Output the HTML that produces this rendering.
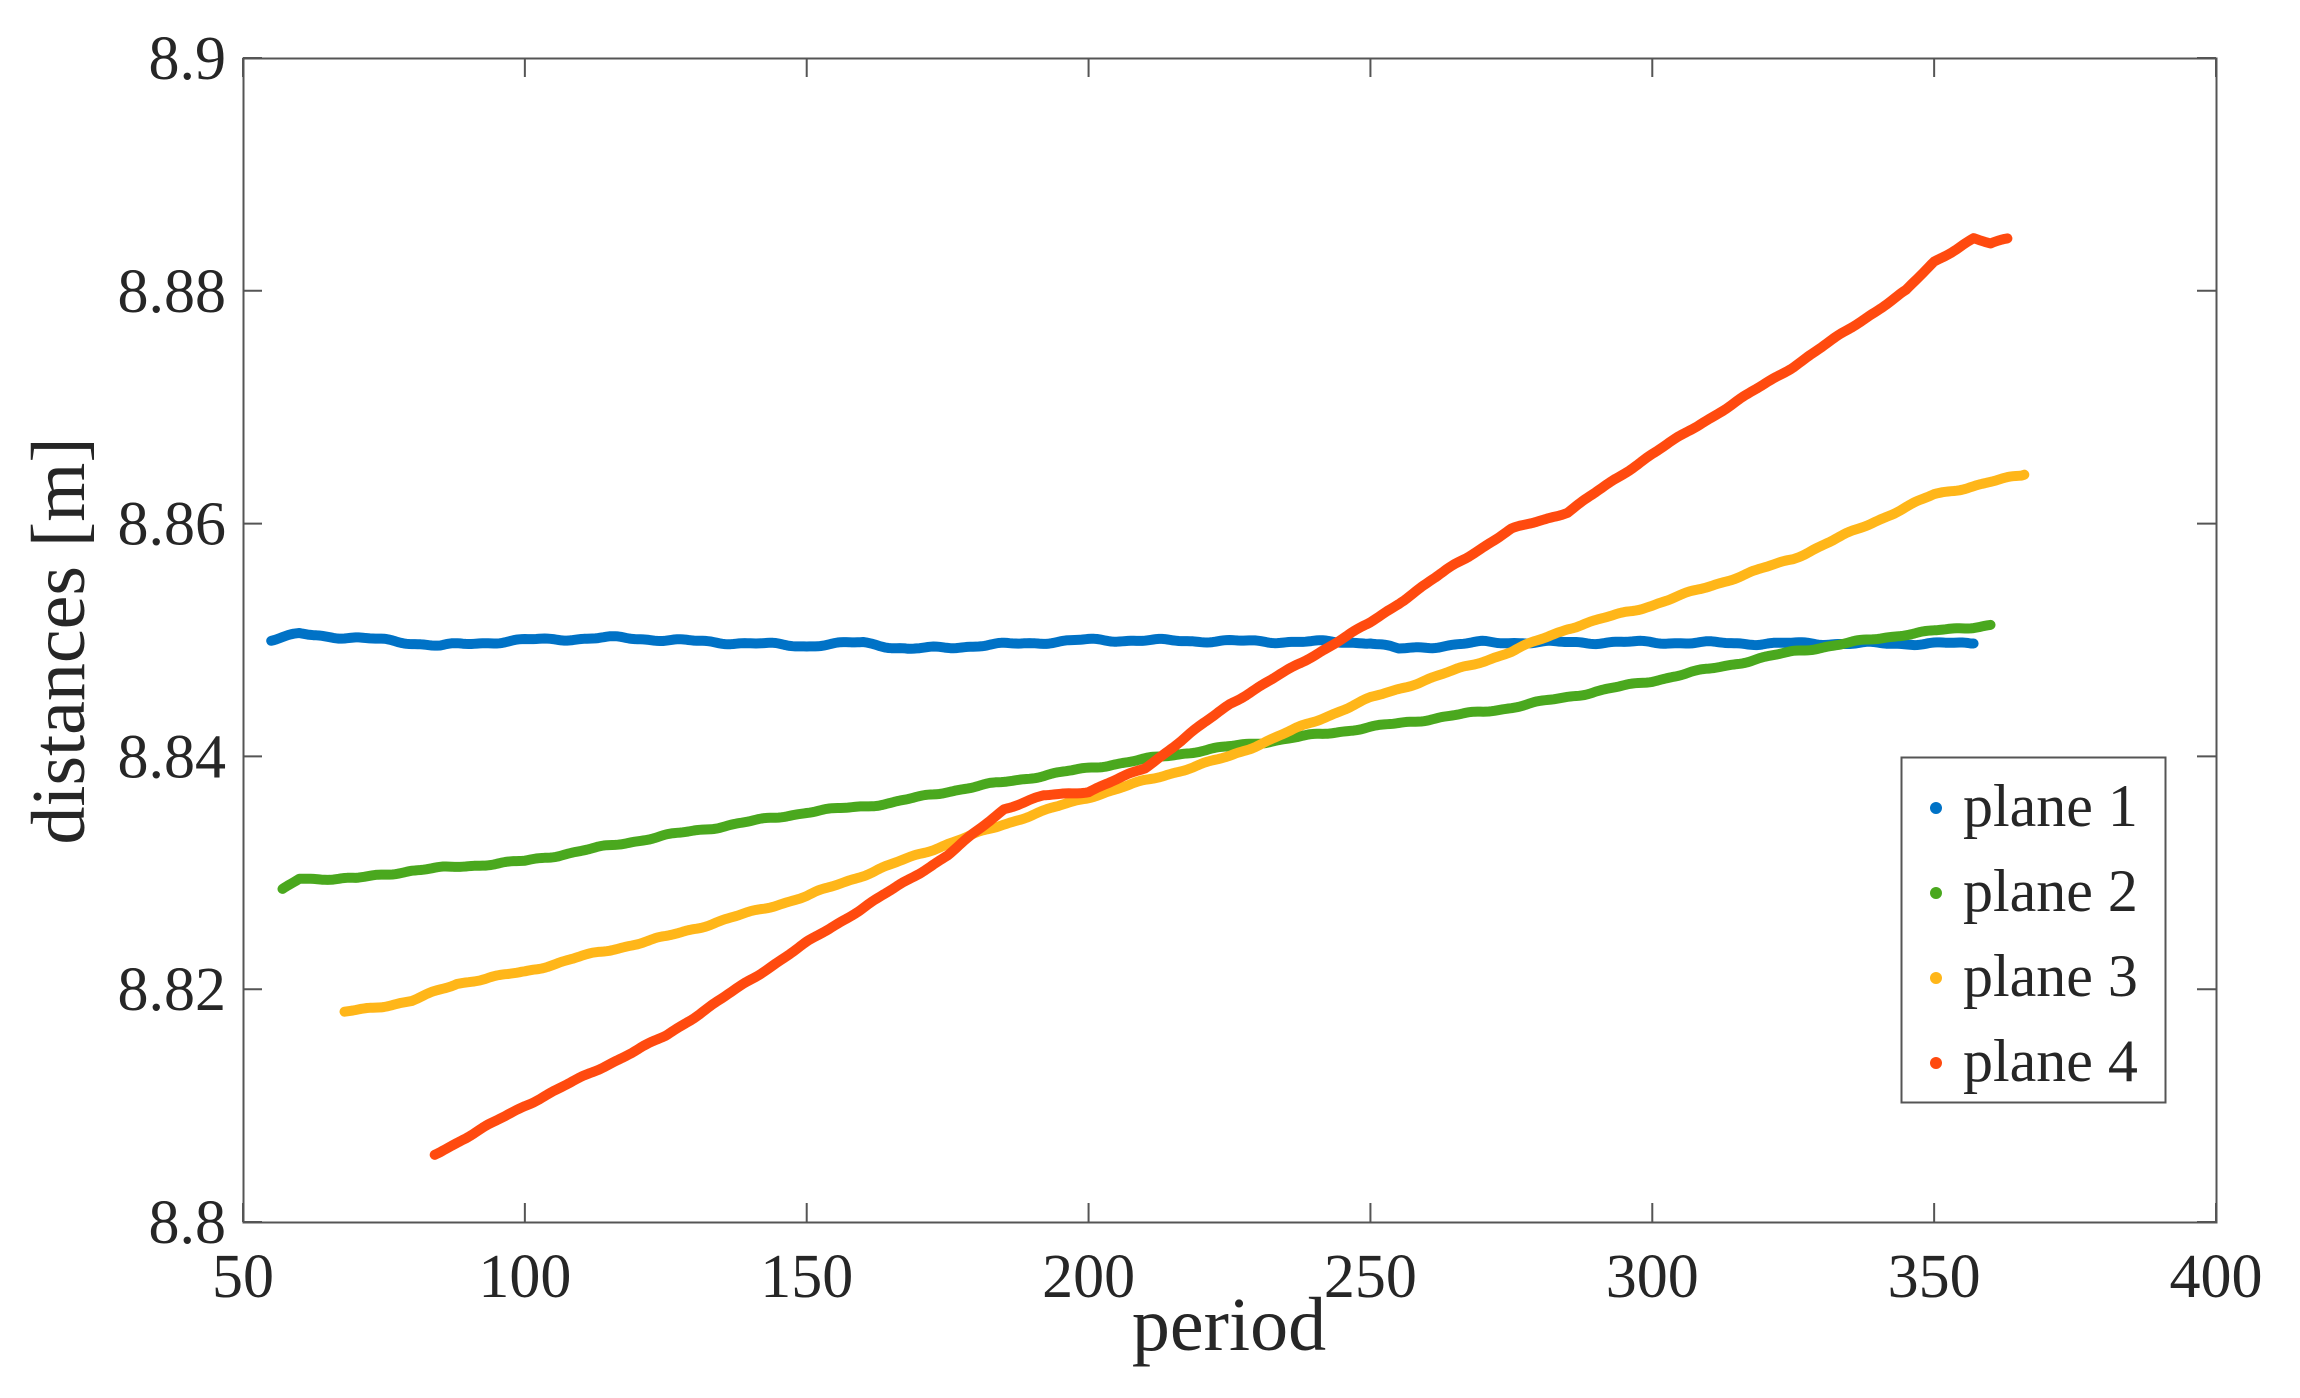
<!DOCTYPE html>
<html><head><meta charset="utf-8"><style>
html,body{margin:0;padding:0;background:#fff}
svg text{font-family:"Liberation Serif",serif;fill:#262626}
</style></head><body>
<svg id="s" width="2300" height="1393" viewBox="0 0 2300 1393" xmlns="http://www.w3.org/2000/svg">
<rect width="2300" height="1393" fill="#fff"/>
<g id="data"></g>
<rect x="243.5" y="58.5" width="1973" height="1164" fill="none" stroke="#555" stroke-width="2"/>
<g id="ticks" stroke="#555" stroke-width="2"></g>
<g font-size="62" text-anchor="end" id="yl"></g>
<g font-size="62" text-anchor="middle" id="xl"></g>
<text x="1229" y="1350" font-size="76" text-anchor="middle">period</text>
<text transform="translate(84,641) rotate(-90)" font-size="76" text-anchor="middle">distances [m]</text>
<rect x="1901.5" y="757.5" width="264" height="345" fill="#fff" stroke="#555" stroke-width="2"/>
<g font-size="60">
<circle cx="1936" cy="808" r="6" fill="#0072c6"/><text x="1963" y="826">plane 1</text>
<circle cx="1936" cy="893" r="6" fill="#4aa81e"/><text x="1963" y="911">plane 2</text>
<circle cx="1936" cy="978" r="6" fill="#ffb619"/><text x="1963" y="996">plane 3</text>
<circle cx="1936" cy="1063" r="6" fill="#ff4a0f"/><text x="1963" y="1081">plane 4</text>
</g>
</svg>
<script>
const X=v=>243+(v-50)/350*1973, Y=v=>58+(8.9-v)/0.1*1164;
const ns="http://www.w3.org/2000/svg";
const tk=document.getElementById('ticks'),yl=document.getElementById('yl'),xl=document.getElementById('xl');
function el(t,a,p){const e=document.createElementNS(ns,t);for(const k in a)e.setAttribute(k,a[k]);p.appendChild(e);return e;}
[8.8,8.82,8.84,8.86,8.88,8.9].forEach((v,i)=>{const y=Y(v);
 el('line',{x1:243,x2:262,y1:y,y2:y},tk);el('line',{x1:2216,x2:2197,y1:y,y2:y},tk);
 const t=el('text',{x:226,y:y+21},yl);t.textContent=['8.8','8.82','8.84','8.86','8.88','8.9'][i];});
[50,100,150,200,250,300,350,400].forEach(v=>{const x=X(v);
 el('line',{x1:x,x2:x,y1:1222,y2:1203},tk);el('line',{x1:x,x2:x,y1:58,y2:77},tk);
 const t=el('text',{x:x,y:1297},xl);t.textContent=v;});
const S=[
 ['#0072c6',[[55,8.850],[60,8.8505],[75,8.850],[85,8.8495],[100,8.850],[117,8.8502],[125,8.850],[150,8.8495],[160,8.8498],[168,8.8492],[200,8.850],[250,8.8498],[255,8.8492],[270,8.8498],[300,8.8498],[320,8.8497],[340,8.8497],[357,8.8497]],0.00015],
 ['#4aa81e',[[57,8.8285],[60,8.8295],[70,8.8295],[80,8.8302],[100,8.831],[125,8.8332],[150,8.8352],[165,8.836],[175,8.837],[200,8.839],[220,8.8405],[250,8.8425],[275,8.8442],[300,8.8465],[325,8.849],[345,8.8505],[360,8.8513]],0.00012],
 ['#ffb619',[[68,8.818],[80,8.819],[88,8.8205],[100,8.8215],[110,8.8228],[125,8.8245],[150,8.828],[175,8.8325],[190,8.835],[200,8.8365],[225,8.840],[250,8.845],[275,8.849],[285,8.851],[300,8.853],[325,8.857],[350,8.8625],[366,8.8642]],0.00012],
 ['#ff4a0f',[[84,8.8058],[100,8.810],[125,8.816],[150,8.824],[175,8.8315],[185,8.8355],[192,8.8366],[200,8.837],[210,8.839],[225,8.8445],[250,8.8515],[265,8.8565],[275,8.8595],[285,8.861],[300,8.866],[325,8.8735],[345,8.880],[350,8.8825],[357,8.8845],[360,8.884],[363,8.8845]],0.0001]];
const g=document.getElementById('data');
S.forEach(([c,p,n],si)=>{let pts=[];
 for(let i=0;i<p.length-1;i++){const [x0,y0]=p[i],[x1,y1]=p[i+1];const st=Math.max(1,Math.round((x1-x0)*2));
  for(let k=0;k<st;k++){const x=x0+(x1-x0)*k/st;let y=y0+(y1-y0)*k/st;
   y+=n*(Math.sin(x*0.45+si)*0.7+Math.sin(x*1.1+si*2)*0.3);pts.push(X(x).toFixed(1)+','+Y(y).toFixed(1));}}
 const l=p[p.length-1];pts.push(X(l[0]).toFixed(1)+','+Y(l[1]).toFixed(1));
 el('polyline',{points:pts.join(' '),fill:'none',stroke:c,'stroke-width':10,'stroke-linecap':'round','stroke-linejoin':'round'},g);});
</script>
</body></html>
